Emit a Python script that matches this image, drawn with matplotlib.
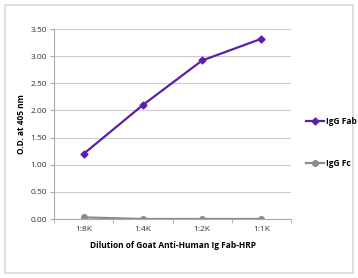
import matplotlib
matplotlib.use("Agg")
import matplotlib.pyplot as plt
from matplotlib.patches import Rectangle

categories = ["1:8K", "1:4K", "1:2K", "1:1K"]
igg_fab = [1.20, 2.10, 2.92, 3.32]
igg_fc = [0.03, 0.00, 0.00, 0.00]
yticks = [0.00, 0.50, 1.00, 1.50, 2.00, 2.50, 3.00, 3.50]

plt.rcParams['font.family'] = ['Open Sans', 'DejaVu Sans']

fig = plt.figure(figsize=(3.58, 2.78), dpi=100)
fig.patches.append(Rectangle((5/358, 5/278), 348/358, 268/278, transform=fig.transFigure,
                             fill=False, edgecolor='#d9d9d9', linewidth=1.2))
ax = fig.add_axes([54/358, 1 - 219/278, (291-54)/358, (219-29)/278])

x = list(range(len(categories)))
ax.plot(x, igg_fab, color='#5b1fa8', marker='D', markersize=3.5, linewidth=1.6, label='IgG Fab')
ax.plot(x, igg_fc, color='#8c8c8c', marker='o', markersize=4, linewidth=1.6, label='IgG Fc')

ax.set_xlim(-0.5, len(categories) - 0.5)
ax.set_ylim(0, 3.5)
ax.set_yticks(yticks)
ax.set_yticklabels([f"{v:.2f}" for v in yticks], fontsize=6, color='#333333')
ax.set_xticks(x)
ax.set_xticklabels(categories, fontsize=6, color='#333333')
ax.set_xticks([i - 0.5 for i in range(len(categories) + 1)], minor=True)
ax.tick_params(axis='x', which='major', length=0, pad=5)
ax.tick_params(axis='x', which='minor', length=3, color='#aaaaaa')
ax.tick_params(axis='y', length=3, color='#aaaaaa', pad=2)
ax.grid(axis='y', color='#cccccc', linewidth=0.8)
ax.set_axisbelow(True)
for s in ['top', 'right']:
    ax.spines[s].set_visible(False)
ax.spines['left'].set_color('#aaaaaa')
ax.spines['bottom'].set_color('#aaaaaa')

ax.set_ylabel('O.D. at 405 nm', fontsize=6, fontweight='bold', labelpad=3)
ax.set_xlabel('Dilution of Goat Anti-Human Ig Fab-HRP', fontsize=6, fontweight='bold', labelpad=6)

fig.legend(loc='upper left', bbox_to_anchor=(298/358, 1 - 109/278), frameon=False,
           handlelength=2.2, handletextpad=0.2, labelspacing=4.0,
           prop={'weight': 'bold', 'size': 6})

fig.savefig('out.png', dpi=100)
